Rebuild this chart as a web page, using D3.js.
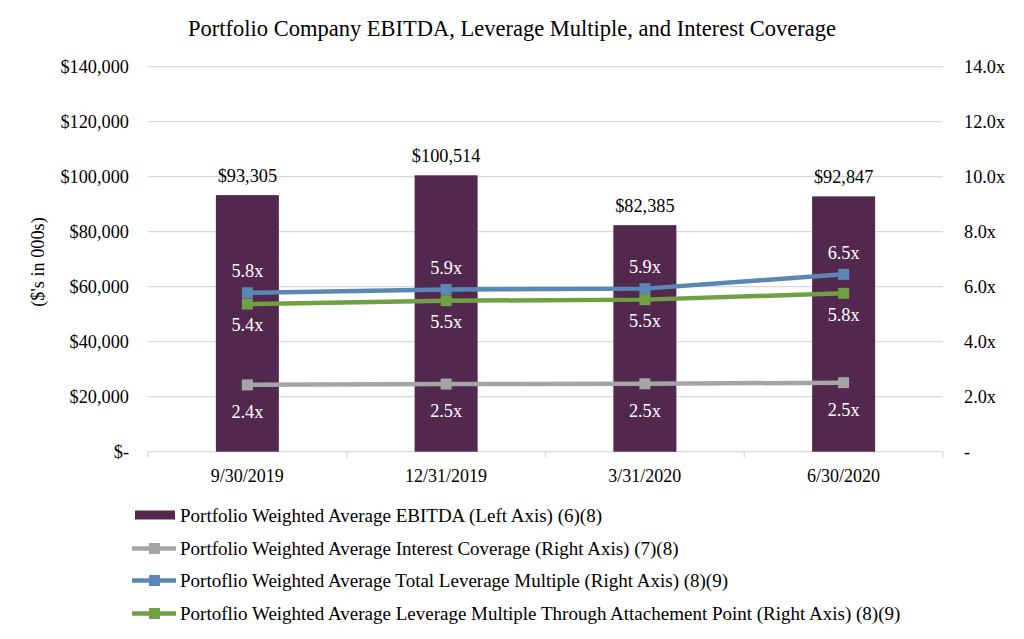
<!DOCTYPE html>
<html><head><meta charset="utf-8">
<script src="https://cdn.jsdelivr.net/npm/d3@7"></script>
<style>body{margin:0;background:#fff}</style>
</head><body><svg id="c" width="1024" height="639" font-family="'Liberation Serif', Tinos, 'Times New Roman', Times, serif"></svg>
<script>
const categories = ["9/30/2019","12/31/2019","3/31/2020","6/30/2020"];
const ebitda = [93305, 100514, 82385, 92847];
const interestCoverage = [2.43, 2.46, 2.47, 2.51];
const totalLeverage = [5.78, 5.90, 5.93, 6.45];
const attachLeverage = [5.37, 5.49, 5.53, 5.76];
const leftTicks = [0,20000,40000,60000,80000,100000,120000,140000];
const rightTicks = [0,2,4,6,8,10,12,14];
const title = "Portfolio Company EBITDA, Leverage Multiple, and Interest Coverage";
const legendLabels = [
 "Portfolio Weighted Average EBITDA (Left Axis) (6)(8)",
 "Portfolio Weighted Average Interest Coverage (Right Axis) (7)(8)",
 "Portoflio Weighted Average Total Leverage Multiple (Right Axis) (8)(9)",
 "Portoflio Weighted Average Leverage Multiple Through Attachement Point (Right Axis) (8)(9)"
];
const colors = {bar:"#52284e", gray:"#a5a5a5", blue:"#5b87b4", green:"#70a044"};

const svg = d3.select("#c");
const L=148, R=943, T=66.7, B=451.7;
const FS = 18.3;
const x = d3.scaleBand().domain(categories).range([L,R]).padding(0);
const yL = d3.scaleLinear().domain([0,140000]).range([B,T]);
const yR = d3.scaleLinear().domain([0,14]).range([B,T]);
const fmtMoney = v => v===0 ? "$-" : "$" + d3.format(",")(v);
const fmtX = v => v===0 ? "-" : d3.format(".1f")(v) + "x";

svg.append("text").attr("x",512).attr("y",36).attr("text-anchor","middle").attr("font-size",22.5).text(title);

// gridlines
svg.append("g").selectAll("line").data(leftTicks).join("line")
 .attr("x1",L).attr("x2",R).attr("y1",d=>yL(d)).attr("y2",d=>yL(d))
 .attr("stroke","#d9d9d9").attr("stroke-width",1.3);
// category ticks
const bounds = categories.map(c=>x(c)).concat([R]);
svg.append("g").selectAll("line").data(bounds).join("line")
 .attr("x1",d=>d).attr("x2",d=>d).attr("y1",B).attr("y2",B+6)
 .attr("stroke","#d9d9d9").attr("stroke-width",1.3);

// left axis labels
svg.append("g").selectAll("text").data(leftTicks).join("text")
 .attr("x",129).attr("y",d=>yL(d)).attr("dy","0.35em").attr("text-anchor","end")
 .attr("font-size",FS).text(fmtMoney);
// right axis labels
svg.append("g").selectAll("text").data(rightTicks).join("text")
 .attr("x",964).attr("y",d=>yR(d)).attr("dy","0.35em").attr("text-anchor","start")
 .attr("font-size",FS).text(fmtX);
// y title
svg.append("text").attr("transform","translate(44,262) rotate(-90)").attr("text-anchor","middle")
 .attr("font-size",FS).text("($'s in 000s)");
// x labels
svg.append("g").selectAll("text").data(categories).join("text")
 .attr("x",d=>x(d)+x.bandwidth()/2).attr("y",481.5).attr("text-anchor","middle")
 .attr("font-size",18).text(d=>d);

// bars
const bw = 63;
svg.append("g").selectAll("rect").data(ebitda).join("rect")
 .attr("x",(d,i)=>x(categories[i])+x.bandwidth()/2-bw/2).attr("width",bw)
 .attr("y",d=>yL(d)).attr("height",d=>B-yL(d)).attr("fill",colors.bar);
svg.append("g").selectAll("text").data(ebitda).join("text")
 .attr("x",(d,i)=>x(categories[i])+x.bandwidth()/2).attr("y",d=>yL(d)-13)
 .attr("text-anchor","middle").attr("font-size",FS).text(fmtMoney);

// lines
const cx = i => x(categories[i])+x.bandwidth()/2;
function series(vals,color,labOff){
 const line = d3.line().x((d,i)=>cx(i)).y(d=>yR(d));
 svg.append("path").datum(vals).attr("d",line).attr("fill","none").attr("stroke",color).attr("stroke-width",4.5);
 svg.append("g").selectAll("rect").data(vals).join("rect")
  .attr("x",(d,i)=>cx(i)-5.5).attr("y",d=>yR(d)-5.5).attr("width",11).attr("height",11).attr("fill",color);
 svg.append("g").selectAll("text").data(vals).join("text")
  .attr("x",(d,i)=>cx(i)).attr("y",d=>yR(d)+labOff).attr("dy","0.35em").attr("text-anchor","middle")
  .attr("font-size",FS).attr("fill","#fff").text(fmtX);
}
series(interestCoverage,colors.gray,27);
series(attachLeverage,colors.green,21);
series(totalLeverage,colors.blue,-22);

// legend
const lg = svg.append("g");
const rows = [515,548.5,580.5,613.5];
lg.append("rect").attr("x",135).attr("y",rows[0]-4.5).attr("width",40).attr("height",9).attr("fill",colors.bar);
[colors.gray,colors.blue,colors.green].forEach((c,k)=>{
 const yy = rows[k+1];
 lg.append("line").attr("x1",132).attr("x2",176).attr("y1",yy).attr("y2",yy).attr("stroke",c).attr("stroke-width",4.5);
 lg.append("rect").attr("x",149).attr("y",yy-5.5).attr("width",11).attr("height",11).attr("fill",c);
});
lg.selectAll("text").data(legendLabels).join("text")
 .attr("x",180).attr("y",(d,i)=>rows[i]).attr("dy","0.35em").attr("font-size",19).text(d=>d);
</script></body></html>
